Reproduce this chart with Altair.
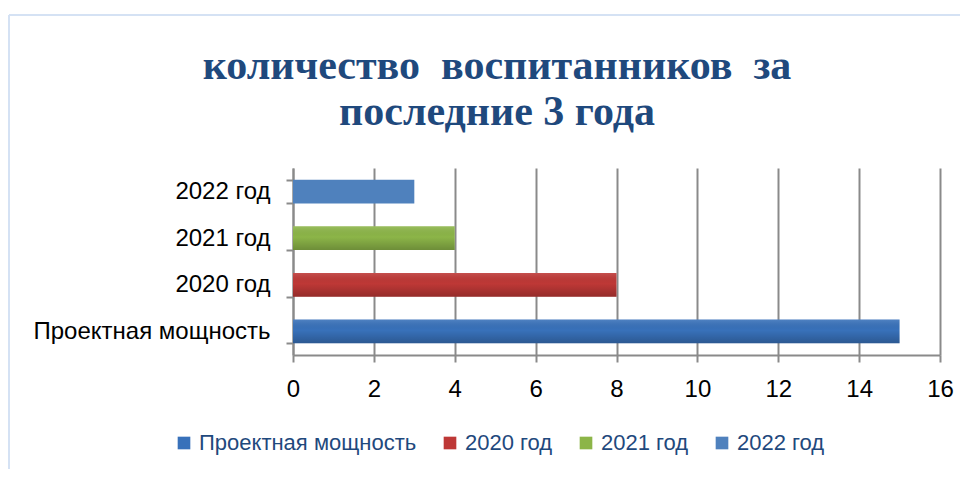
import altair as alt
import pandas as pd

categories = ["Проектная мощность", "2020 год", "2021 год", "2022 год"]
values = [15, 8, 4, 3]
colors = ["#3871BA", "#BE3836", "#8CB548", "#4F81BD"]
shaded = [True, True, True, False]
x_ticks = [0, 2, 4, 6, 8, 10, 12, 14, 16]
title_lines = ["количество\u00a0 воспитанников\u00a0 за", "последние 3 года"]

df = pd.DataFrame({"cat": categories, "val": values, "shaded": shaded})

y_enc = alt.Y("cat:N", sort=categories[::-1],
              scale=alt.Scale(paddingInner=0.49, paddingOuter=0.25),
              axis=alt.Axis(title=None, tickBand="extent", domainColor="#8A8A8A",
                            domainWidth=2, tickColor="#8A8A8A", tickWidth=2, tickSize=7,
                            labelFontSize=24, labelFont="Liberation Sans", labelLimit=400,
                            labelColor="#000000", labelPadding=16))

bars = alt.Chart(df).mark_bar().encode(
    x=alt.X("val:Q", scale=alt.Scale(domain=[0, 16], nice=False),
            axis=alt.Axis(values=x_ticks, title=None, grid=True, gridColor="#8A8A8A",
                          gridWidth=2, domainColor="#8A8A8A", domainWidth=2,
                          tickColor="#8A8A8A", tickWidth=2, tickSize=7,
                          labelFontSize=24, labelFont="Liberation Sans", labelFlush=False,
                          labelColor="#000000", labelPadding=15)),
    y=y_enc,
    color=alt.Color("cat:N", scale=alt.Scale(domain=categories, range=colors),
                    legend=alt.Legend(title=None, orient="none", direction="horizontal",
                                      legendX=-120, legendY=264, symbolType="square",
                                      symbolSize=160, symbolStrokeWidth=0,
                                      labelFontSize=22, labelFont="Liberation Sans",
                                      labelLimit=400,
                                      labelColor="#1F497D", columnPadding=22,
                                      labelOffset=4)),
)

overlay = alt.Chart(df).transform_filter("datum.shaded").mark_bar(
    fill=alt.Gradient(gradient="linear", x1=0, x2=0, y1=0, y2=1,
                      stops=[alt.GradientStop(color="rgba(255,255,255,0.12)", offset=0),
                             alt.GradientStop(color="rgba(0,0,0,0.0)", offset=0.45),
                             alt.GradientStop(color="rgba(0,0,0,0.22)", offset=1)])
).encode(x="val:Q", y=y_enc)

frame_df = alt.Data(values=[{"a": 1}])
top_line = alt.Chart(frame_df).mark_rule(color="#D5E2F4", strokeWidth=2).encode(
    x=alt.value(-284), x2=alt.value(680), y=alt.value(-153))
left_line = alt.Chart(frame_df).mark_rule(color="#D5E2F4", strokeWidth=2).encode(
    x=alt.value(-284), y=alt.value(-153), y2=alt.value(310))

title_df = pd.DataFrame({"line": title_lines, "row": [0, 1]})
title1 = alt.Chart(title_df).transform_filter("datum.row == 0").mark_text(
    font="Liberation Serif", fontSize=42, fontWeight="bold", color="#1F497D",
    align="center", baseline="alphabetic").encode(
    text="line:N", x=alt.value(204), y=alt.value(-89))
title2 = alt.Chart(title_df).transform_filter("datum.row == 1").mark_text(
    font="Liberation Serif", fontSize=42, fontWeight="bold", color="#1F497D",
    align="center", baseline="alphabetic").encode(
    text="line:N", x=alt.value(204), y=alt.value(-43))

chart = alt.layer(top_line, left_line, title1, title2, bars, overlay).properties(
    width=647, height=187,
    autosize=alt.AutoSizeParams(type="none"),
    padding={"left": 285, "top": 160, "right": 20, "bottom": 114},
).configure_view(stroke=None)

chart.save("out.html", embed_options={"renderer": "svg", "actions": False})
